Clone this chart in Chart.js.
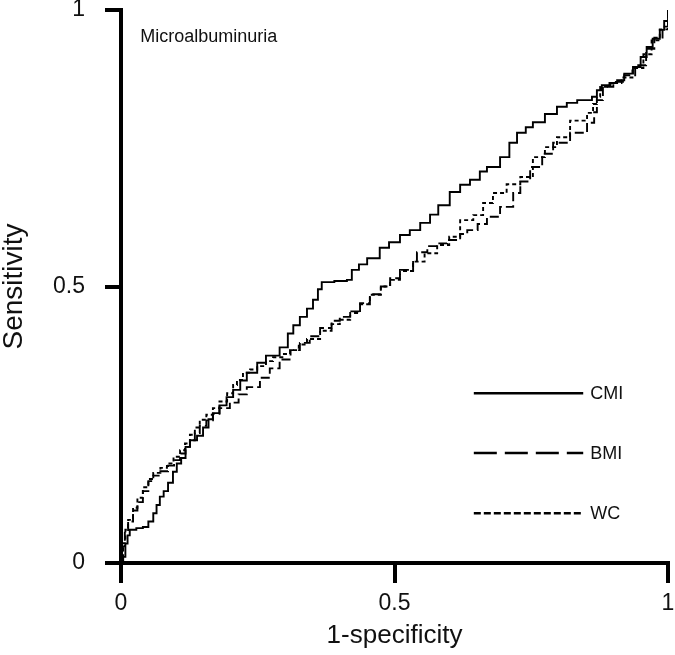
<!DOCTYPE html>
<html>
<head>
<meta charset="utf-8">
<script src="https://cdn.jsdelivr.net/npm/chart.js@4.4.1/dist/chart.umd.min.js"></script>
<style>
  html, body { margin: 0; padding: 0; background: #fff; }
  #wrap { width: 675px; height: 655px; }
</style>
</head>
<body>
<div id="wrap"><canvas id="myChart" width="675" height="655"></canvas></div>
<script>
// ROC curves
var seriesNames = ['CMI', 'BMI', 'WC'];
var panelTitle = 'Microalbuminuria';
var tickValues = [0, 0.5, 1];

var cmiX = [0, 0.004, 0.008, 0.012, 0.016, 0.028, 0.04, 0.05, 0.059, 0.065, 0.071, 0.078, 0.086, 0.095, 0.102, 0.11, 0.118, 0.126, 0.139, 0.15,
            0.16, 0.168, 0.18, 0.193, 0.205, 0.218, 0.23, 0.249, 0.265, 0.29, 0.305, 0.315, 0.327, 0.34, 0.351, 0.36, 0.367, 0.39, 0.413, 0.422,
            0.435, 0.45, 0.473, 0.49, 0.51, 0.528, 0.547, 0.565, 0.58, 0.601, 0.62, 0.638, 0.656, 0.669, 0.693, 0.71, 0.724, 0.74, 0.753, 0.775,
            0.797, 0.815, 0.834, 0.861, 0.87, 0.879, 0.893, 0.907, 0.92, 0.936, 0.95, 0.961, 0.972, 0.985, 0.993, 1, 1];
var cmiY = [0, 0.011, 0.035, 0.05, 0.06, 0.063, 0.065, 0.075, 0.09, 0.105, 0.12, 0.13, 0.145, 0.165, 0.18, 0.19, 0.21, 0.222, 0.23, 0.245,
            0.26, 0.271, 0.285, 0.3, 0.313, 0.33, 0.344, 0.362, 0.375, 0.39, 0.415, 0.43, 0.445, 0.46, 0.476, 0.495, 0.508, 0.51, 0.512, 0.53,
            0.54, 0.551, 0.57, 0.58, 0.593, 0.602, 0.615, 0.63, 0.647, 0.671, 0.684, 0.693, 0.708, 0.716, 0.734, 0.76, 0.778, 0.788, 0.797, 0.812,
            0.825, 0.832, 0.837, 0.843, 0.855, 0.864, 0.868, 0.873, 0.885, 0.897, 0.915, 0.933, 0.948, 0.964, 0.98, 0.995, 1];

var bmiX = [0, 0.003, 0.007, 0.013, 0.022, 0.03, 0.04, 0.05, 0.059, 0.072, 0.086, 0.097, 0.108, 0.118, 0.126, 0.135, 0.144, 0.156, 0.168, 0.18,
            0.199, 0.215, 0.23, 0.254, 0.272, 0.29, 0.31, 0.327, 0.345, 0.364, 0.385, 0.4, 0.419, 0.437, 0.455, 0.475, 0.492, 0.51, 0.534, 0.541,
            0.56, 0.578, 0.596, 0.62, 0.633, 0.652, 0.669, 0.693, 0.717, 0.73, 0.748, 0.77, 0.79, 0.821, 0.852, 0.865, 0.87, 0.881, 0.9, 0.92,
            0.94, 0.96, 0.975, 0.99, 1, 1];
var bmiY = [0, 0.03, 0.055, 0.075, 0.095, 0.11, 0.13, 0.148, 0.158, 0.166, 0.176, 0.186, 0.198, 0.21, 0.222, 0.235, 0.248, 0.258, 0.27, 0.28,
            0.29, 0.305, 0.318, 0.335, 0.352, 0.368, 0.385, 0.398, 0.41, 0.425, 0.438, 0.445, 0.455, 0.47, 0.486, 0.5, 0.515, 0.53, 0.548, 0.562,
            0.573, 0.578, 0.584, 0.595, 0.602, 0.613, 0.626, 0.644, 0.669, 0.69, 0.716, 0.74, 0.76, 0.778, 0.796, 0.815, 0.837, 0.861, 0.87, 0.882,
            0.9, 0.93, 0.95, 0.97, 0.99, 1];

var wcX = [0, 0.004, 0.008, 0.013, 0.022, 0.03, 0.04, 0.05, 0.059, 0.072, 0.084, 0.096, 0.108, 0.117, 0.126, 0.135, 0.144, 0.156, 0.168, 0.18,
           0.194, 0.205, 0.212, 0.223, 0.236, 0.249, 0.265, 0.278, 0.295, 0.309, 0.325, 0.34, 0.364, 0.385, 0.4, 0.419, 0.437, 0.455, 0.475, 0.492,
           0.51, 0.534, 0.555, 0.578, 0.6, 0.62, 0.644, 0.662, 0.68, 0.705, 0.73, 0.753, 0.775, 0.797, 0.821, 0.852, 0.863, 0.87, 0.876, 0.895,
           0.915, 0.935, 0.955, 0.97, 0.985, 1, 1];
var wcY = [0, 0.036, 0.06, 0.078, 0.1, 0.118, 0.137, 0.152, 0.163, 0.172, 0.18, 0.192, 0.204, 0.216, 0.232, 0.245, 0.259, 0.268, 0.28, 0.292,
           0.307, 0.322, 0.331, 0.344, 0.35, 0.356, 0.365, 0.372, 0.378, 0.385, 0.395, 0.405, 0.42, 0.432, 0.44, 0.452, 0.468, 0.485, 0.5, 0.512,
           0.528, 0.545, 0.56, 0.575, 0.59, 0.62, 0.629, 0.651, 0.669, 0.685, 0.698, 0.734, 0.752, 0.77, 0.8, 0.814, 0.83, 0.843, 0.861, 0.868,
           0.878, 0.895, 0.92, 0.945, 0.965, 0.985, 1];

function toPoints(xs, ys) {
  return xs.map(function(x, i) { return {x: x, y: ys[i]}; });
}

var FONT = '"Liberation Sans", Arial, sans-serif';
var curveDash = [[], [9, 4], [4, 3]];
var legendDash = [[], [23, 8], [7, 3]];

// panel label + legend drawn inside the plot
var overlay = {
  id: 'overlay',
  afterDraw: function(chart) {
    var ctx = chart.ctx, sx = chart.scales.x, sy = chart.scales.y;
    ctx.save();
    ctx.fillStyle = '#111';
    ctx.font = '18px ' + FONT;
    ctx.textBaseline = 'middle';
    ctx.textAlign = 'left';
    ctx.fillText(panelTitle, sx.getPixelForValue(0.035), sy.getPixelForValue(0.952));

    var rows = [0.307, 0.199, 0.09];
    for (var i = 0; i < seriesNames.length; i++) {
      var py = sy.getPixelForValue(rows[i]);
      ctx.beginPath();
      ctx.setLineDash(legendDash[i]);
      ctx.lineWidth = 2.5;
      ctx.strokeStyle = '#000';
      ctx.moveTo(sx.getPixelForValue(0.645), py);
      ctx.lineTo(sx.getPixelForValue(0.845), py);
      ctx.stroke();
      ctx.setLineDash([]);
      ctx.fillText(seriesNames[i], sx.getPixelForValue(0.858), py + 1);
    }
    ctx.restore();
  }
};

// keep the plot box fixed: no extra room for overhanging tick labels
function noPad(scale) {
  scale.paddingTop = 0;
  scale.paddingBottom = 0;
  scale.paddingLeft = 0;
  scale.paddingRight = 0;
}

var ctx = document.getElementById('myChart');
var myChart = new Chart(ctx, {
  type: 'scatter',
  data: {
    datasets: [
      { label: seriesNames[0], data: toPoints(cmiX, cmiY) },
      { label: seriesNames[1], data: toPoints(bmiX, bmiY) },
      { label: seriesNames[2], data: toPoints(wcX, wcY) }
    ].map(function(d, i) {
      d.showLine = true;
      d.stepped = true;
      d.borderColor = '#000';
      d.borderWidth = 1.9;
      d.borderDash = curveDash[i];
      d.pointRadius = 0;
      d.fill = false;
      return d;
    })
  },
  options: {
    responsive: false,
    animation: false,
    layout: { padding: { top: 10, right: 7, left: 0, bottom: 0 } },
    plugins: {
      legend: { display: false },
      tooltip: { enabled: false }
    },
    scales: {
      x: {
        type: 'linear',
        min: 0,
        max: 1,
        afterBuildTicks: function(scale) {
          scale.ticks = tickValues.map(function(v) { return {value: v}; });
        },
        afterFit: function(scale) { scale.height = 92; noPad(scale); },
        border: { display: true, width: 4, color: '#000' },
        grid: { display: true, drawOnChartArea: false, drawTicks: true, tickLength: 20, lineWidth: 4, color: '#000' },
        ticks: { color: '#111', font: { family: FONT, size: 23 }, padding: 7, maxRotation: 0,
                 callback: function(v) { return String(v); } },
        title: { display: true, text: '1-specificity', color: '#111', font: { family: FONT, size: 26 }, padding: { top: 0, bottom: 4 } }
      },
      y: {
        type: 'linear',
        min: 0,
        max: 1,
        afterBuildTicks: function(scale) {
          scale.ticks = tickValues.map(function(v) { return {value: v}; });
        },
        afterFit: function(scale) { scale.width = 121; noPad(scale); },
        border: { display: true, width: 4, color: '#000' },
        grid: { display: true, drawOnChartArea: false, drawTicks: true, tickLength: 16, lineWidth: 4, color: '#000' },
        ticks: { color: '#111', font: { family: FONT, size: 23 }, padding: 20,
                 callback: function(v) { return String(v); } },
        title: { display: true, text: 'Sensitivity', color: '#111', font: { family: FONT, size: 28, lineHeight: 1 }, padding: 0 }
      }
    }
  },
  plugins: [overlay]
});
</script>
</body>
</html>
